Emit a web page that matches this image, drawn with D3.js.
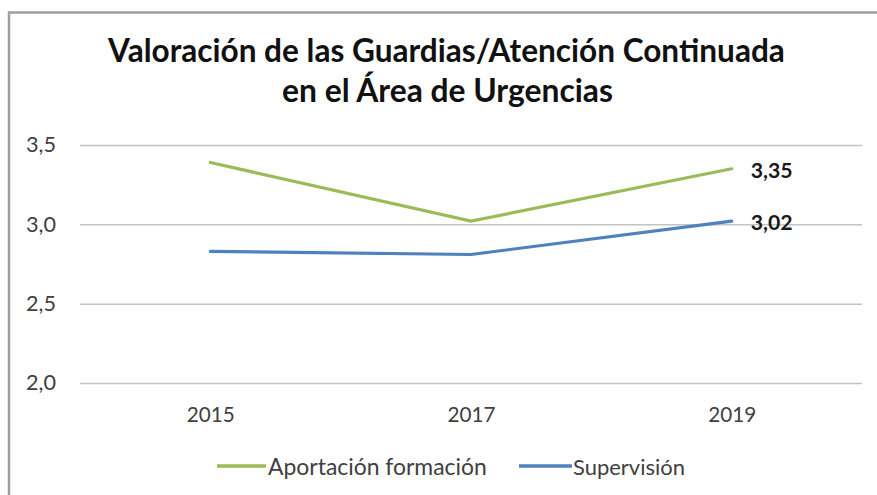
<!DOCTYPE html>
<html><head><meta charset="utf-8">
<script src="https://cdn.jsdelivr.net/npm/d3@7"></script>
<style>html,body{margin:0;padding:0;background:#fff;}svg{display:block;}</style>
</head><body>
<script>
const years = ["2015", "2017", "2019"];
const aportacion = [3.39, 3.02, 3.35];
const supervision = [2.83, 2.81, 3.02];
const yTicks = [2.0, 2.5, 3.0, 3.5];
const seriesNames = ["Aportación formación", "Supervisión"];
const titleLines = ["Valoración de las Guardias/Atención Continuada", "en el Área de Urgencias"];

const W = 877, H = 495;
const FONT = "Lato, 'Open Sans', sans-serif";
const svg = d3.select("body").append("svg").attr("width", W).attr("height", H);

// frame
svg.append("rect").attr("x", 9).attr("y", 12.5).attr("width", W + 20).attr("height", H + 20)
  .attr("fill", "#fff").attr("stroke", "#9e9e9e").attr("stroke-width", 2.5);

function fit(sel, target) {
  const n = sel.node();
  const fs = parseFloat(sel.attr("font-size"));
  const w = n.getComputedTextLength();
  sel.attr("font-size", fs * target / w);
}

const x = d3.scalePoint().domain(years).range([80, 862]).padding(0.5);
const y = d3.scaleLinear().domain([2, 3.5]).range([383, 145]);

// title
const t1 = svg.append("text").attr("x", 446.5).attr("y", 62).attr("text-anchor", "middle")
  .attr("font-family", FONT).attr("font-weight", "bold").attr("font-size", 28).attr("fill", "#111")
  .text(titleLines[0]);
fit(t1, 677);
const t2 = svg.append("text").attr("x", 447.5).attr("y", 102).attr("text-anchor", "middle")
  .attr("font-family", FONT).attr("font-weight", "bold").attr("font-size", 28).attr("fill", "#111")
  .text(titleLines[1]);
fit(t2, 331);

// gridlines + y axis
const fmt = v => d3.format(".1f")(v).replace(".", ",");
const yAxis = d3.axisLeft(y).tickValues(yTicks).tickFormat(fmt).tickSize(-(862 - 80)).tickPadding(24);
const gy = svg.append("g").attr("transform", "translate(80,0)").call(yAxis);
gy.select(".domain").remove();
gy.selectAll(".tick line").attr("stroke", "#c4c4c4").attr("stroke-width", 1.5);
gy.selectAll(".tick text").attr("font-family", FONT).attr("font-size", 19).attr("fill", "#404040");
gy.selectAll(".tick text").each(function(){ fit(d3.select(this), 30); });

// x axis labels
const xAxis = d3.axisBottom(x).tickSize(0).tickPadding(0);
const gx = svg.append("g").attr("transform", "translate(0,422)").call(xAxis);
gx.select(".domain").remove();
gx.selectAll(".tick text").attr("font-family", FONT).attr("font-size", 19).attr("fill", "#404040")
  .attr("dy", 0).attr("y", 0);
gx.selectAll(".tick text").each(function(){ fit(d3.select(this), 48); });

// lines
const line = d3.line().x((d, i) => x(years[i])).y(d => y(d));
const colors = ["#9BBB59", "#4F81BD"];
[aportacion, supervision].forEach((s, k) => {
  svg.append("path").datum(s).attr("d", line).attr("fill", "none")
    .attr("stroke", colors[k]).attr("stroke-width", 3.2).attr("stroke-linecap", "round");
});

// data labels on last point
[aportacion, supervision].forEach((s, k) => {
  const v = s[s.length - 1];
  const tl = svg.append("text").attr("x", x(years[years.length - 1]) + 19).attr("y", y(v) + 1)
    .attr("dominant-baseline", "central").attr("font-family", FONT).attr("font-weight", "bold")
    .attr("font-size", 19).attr("fill", "#1a1a1a").text(d3.format(".2f")(v).replace(".", ","));
  fit(tl, 42);
});

// legend
const legendItems = [
  { name: seriesNames[0], color: colors[0], x0: 217, x1: 266, tx: 268, tw: 219 },
  { name: seriesNames[1], color: colors[1], x0: 519, x1: 572, tx: 573, tw: 112 }
];
legendItems.forEach(it => {
  svg.append("line").attr("x1", it.x0).attr("x2", it.x1).attr("y1", 466).attr("y2", 466)
    .attr("stroke", it.color).attr("stroke-width", 3.5);
  const lt = svg.append("text").attr("x", it.tx).attr("y", 466).attr("dominant-baseline", "central")
    .attr("font-family", FONT).attr("font-size", 19).attr("fill", "#404040").text(it.name);
  fit(lt, it.tw);
});
</script>
</body></html>
